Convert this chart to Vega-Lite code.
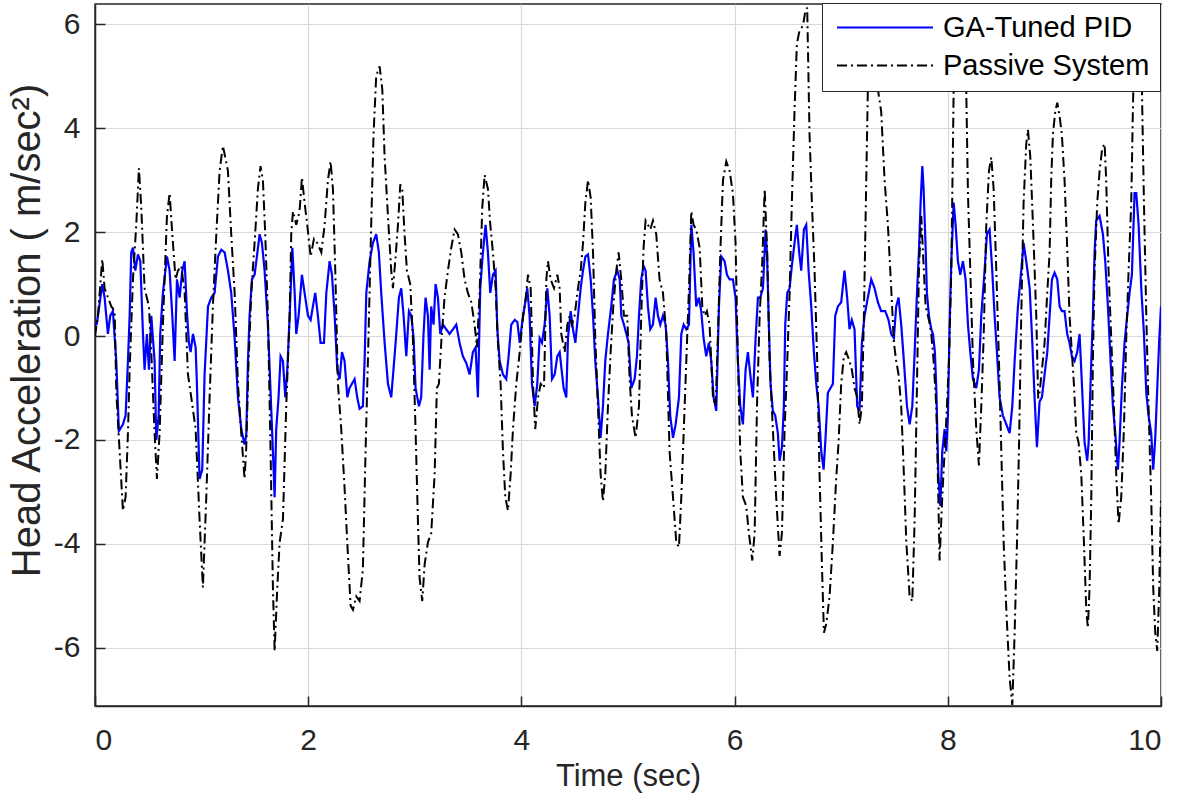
{
 "$schema": "https://vega.github.io/schema/vega-lite/v6.json",
 "width": 1066, "height": 702,
 "autosize": {"type": "none"},
 "padding": {"left": 95, "top": 4, "right": 20, "bottom": 101},
 "background": "#ffffff",
 "config": {
  "font": "Liberation Sans",
  "view": {"stroke": "#262626", "strokeWidth": 1.5},
  "axis": {"gridColor": "#d9d9d9", "gridWidth": 1.2, "domainColor": "#262626", "domainWidth": 1.5, "tickColor": "#262626", "tickSize": -10, "tickWidth": 1.5, "labelColor": "#262626", "titleColor": "#262626", "labelFont": "Liberation Sans", "titleFont": "Liberation Sans", "labelFontSize": 30, "titleFontWeight": "normal", "labelExpr": "datum.value + ''"},
  "legend": {"orient": "none", "legendX": 727, "legendY": -1, "strokeColor": "#262626", "fillColor": "#ffffff", "padding": 10, "labelFontSize": 29, "labelFont": "Liberation Sans", "labelColor": "#000000", "labelLimit": 0, "symbolType": "stroke", "symbolSize": 9216, "symbolStrokeWidth": 2, "clipHeight": 29, "rowPadding": 8, "labelOffset": 9, "symbolOffset": 4, "cornerRadius": 0}
 },
 "layer": [
  {
   "data": {"values": [
{"t":0,"v":0.2},{"t":0.018,"v":0.24},{"t":0.068,"v":1.0},{"t":0.09,"v":0.74},{"t":0.121,"v":0.04},{"t":0.143,"v":0.39},{"t":0.168,"v":0.48},{"t":0.2,"v":-0.5},{"t":0.224,"v":-1.83},{"t":0.262,"v":-1.7},{"t":0.287,"v":-1.53},{"t":0.309,"v":-0.48},{"t":0.325,"v":0.39},{"t":0.34,"v":1.61},{"t":0.356,"v":1.7},{"t":0.378,"v":1.26},{"t":0.403,"v":1.57},{"t":0.425,"v":1.44},{"t":0.45,"v":0.04},{"t":0.465,"v":-0.65},{"t":0.487,"v":0.04},{"t":0.506,"v":-0.65},{"t":0.528,"v":0.39},{"t":0.559,"v":-0.48},{"t":0.575,"v":-2.0},{"t":0.597,"v":-1.53},{"t":0.612,"v":0.04},{"t":0.637,"v":0.83},{"t":0.675,"v":1.53},{"t":0.7,"v":1.26},{"t":0.725,"v":0.39},{"t":0.747,"v":-0.48},{"t":0.769,"v":1.09},{"t":0.794,"v":0.74},{"t":0.819,"v":1.26},{"t":0.841,"v":1.44},{"t":0.862,"v":0.48},{"t":0.881,"v":-0.13},{"t":0.897,"v":-0.31},{"t":0.919,"v":0.04},{"t":0.944,"v":-0.22},{"t":0.956,"v":-0.92},{"t":0.981,"v":-2.75},{"t":1.006,"v":-2.57},{"t":1.028,"v":-0.74},{"t":1.06,"v":0.57},{"t":1.091,"v":0.74},{"t":1.122,"v":0.83},{"t":1.153,"v":1.53},{"t":1.185,"v":1.66},{"t":1.216,"v":1.61},{"t":1.247,"v":1.26},{"t":1.278,"v":0.83},{"t":1.31,"v":-0.04},{"t":1.341,"v":-1.18},{"t":1.372,"v":-1.79},{"t":1.403,"v":-2.09},{"t":1.419,"v":-1.9},{"t":1.435,"v":-0.48},{"t":1.45,"v":0.39},{"t":1.472,"v":1.09},{"t":1.497,"v":1.18},{"t":1.519,"v":1.53},{"t":1.544,"v":1.96},{"t":1.566,"v":1.79},{"t":1.591,"v":1.26},{"t":1.622,"v":0.22},{"t":1.644,"v":-0.92},{"t":1.669,"v":-2.22},{"t":1.685,"v":-3.1},{"t":1.7,"v":-1.79},{"t":1.722,"v":-1.18},{"t":1.741,"v":-0.39},{"t":1.763,"v":-0.48},{"t":1.785,"v":-1.18},{"t":1.804,"v":-0.65},{"t":1.826,"v":0.39},{"t":1.851,"v":1.7},{"t":1.873,"v":0.83},{"t":1.888,"v":0.04},{"t":1.91,"v":0.39},{"t":1.941,"v":1.18},{"t":1.966,"v":0.83},{"t":1.998,"v":0.39},{"t":2.023,"v":0.31},{"t":2.044,"v":0.57},{"t":2.066,"v":0.83},{"t":2.091,"v":0.39},{"t":2.116,"v":-0.13},{"t":2.148,"v":-0.13},{"t":2.17,"v":0.83},{"t":2.201,"v":1.44},{"t":2.223,"v":1.18},{"t":2.248,"v":0.39},{"t":2.273,"v":-0.65},{"t":2.295,"v":-0.83},{"t":2.317,"v":-0.31},{"t":2.341,"v":-0.48},{"t":2.367,"v":-1.18},{"t":2.388,"v":-1.0},{"t":2.435,"v":-0.83},{"t":2.46,"v":-1.18},{"t":2.482,"v":-1.4},{"t":2.513,"v":-1.35},{"t":2.529,"v":-0.48},{"t":2.545,"v":0.83},{"t":2.576,"v":1.44},{"t":2.607,"v":1.79},{"t":2.638,"v":1.96},{"t":2.663,"v":1.61},{"t":2.685,"v":0.83},{"t":2.717,"v":-0.13},{"t":2.748,"v":-0.92},{"t":2.779,"v":-1.18},{"t":2.82,"v":-0.13},{"t":2.851,"v":0.74},{"t":2.873,"v":0.92},{"t":2.895,"v":0.39},{"t":2.92,"v":-0.39},{"t":2.945,"v":0.48},{"t":2.967,"v":0.39},{"t":2.989,"v":-0.04},{"t":3.007,"v":-1.0},{"t":3.039,"v":-1.35},{"t":3.06,"v":-1.18},{"t":3.082,"v":0.04},{"t":3.101,"v":0.74},{"t":3.123,"v":0.39},{"t":3.139,"v":-0.65},{"t":3.154,"v":0.57},{"t":3.176,"v":0.22},{"t":3.195,"v":1.0},{"t":3.217,"v":0.74},{"t":3.239,"v":0.04},{"t":3.264,"v":0.22},{"t":3.295,"v":0.13},{"t":3.326,"v":0.04},{"t":3.358,"v":0.13},{"t":3.389,"v":0.22},{"t":3.42,"v":-0.13},{"t":3.451,"v":-0.39},{"t":3.483,"v":-0.52},{"t":3.514,"v":-0.74},{"t":3.545,"v":-0.31},{"t":3.57,"v":-0.22},{"t":3.592,"v":-1.18},{"t":3.614,"v":0.92},{"t":3.639,"v":1.61},{"t":3.664,"v":2.14},{"t":3.686,"v":1.61},{"t":3.708,"v":0.83},{"t":3.733,"v":1.18},{"t":3.758,"v":1.26},{"t":3.774,"v":0.13},{"t":3.796,"v":-0.48},{"t":3.827,"v":-0.74},{"t":3.858,"v":-0.83},{"t":3.88,"v":-0.39},{"t":3.905,"v":0.22},{"t":3.937,"v":0.31},{"t":3.962,"v":0.27},{"t":3.984,"v":-0.13},{"t":4.005,"v":0.22},{"t":4.03,"v":0.57},{"t":4.055,"v":0.92},{"t":4.077,"v":0.39},{"t":4.099,"v":-0.92},{"t":4.124,"v":-1.35},{"t":4.149,"v":-0.92},{"t":4.171,"v":-0.04},{"t":4.193,"v":-0.13},{"t":4.218,"v":0.22},{"t":4.243,"v":0.92},{"t":4.265,"v":0.39},{"t":4.287,"v":-0.83},{"t":4.312,"v":-0.74},{"t":4.337,"v":-0.39},{"t":4.359,"v":-0.31},{"t":4.396,"v":-1.0},{"t":4.421,"v":-1.18},{"t":4.437,"v":-0.04},{"t":4.462,"v":0.48},{"t":4.484,"v":0.13},{"t":4.506,"v":-0.13},{"t":4.531,"v":0.39},{"t":4.556,"v":0.92},{"t":4.578,"v":1.26},{"t":4.6,"v":1.53},{"t":4.625,"v":1.57},{"t":4.65,"v":1.09},{"t":4.672,"v":0.39},{"t":4.693,"v":-0.48},{"t":4.718,"v":-1.18},{"t":4.743,"v":-1.96},{"t":4.765,"v":-1.35},{"t":4.787,"v":-0.48},{"t":4.812,"v":0.04},{"t":4.843,"v":0.57},{"t":4.868,"v":1.09},{"t":4.9,"v":1.26},{"t":4.922,"v":1.09},{"t":4.937,"v":0.39},{"t":4.962,"v":0.22},{"t":5.006,"v":-0.13},{"t":5.031,"v":-1.0},{"t":5.062,"v":-0.83},{"t":5.084,"v":-0.39},{"t":5.103,"v":0.39},{"t":5.124,"v":1.09},{"t":5.146,"v":1.35},{"t":5.165,"v":1.26},{"t":5.187,"v":0.57},{"t":5.209,"v":0.13},{"t":5.234,"v":0.22},{"t":5.259,"v":0.74},{"t":5.281,"v":0.39},{"t":5.303,"v":0.22},{"t":5.328,"v":0.39},{"t":5.353,"v":0.22},{"t":5.375,"v":-0.48},{"t":5.396,"v":-1.53},{"t":5.422,"v":-1.96},{"t":5.447,"v":-1.7},{"t":5.478,"v":-1.18},{"t":5.5,"v":0.04},{"t":5.522,"v":0.22},{"t":5.547,"v":0.13},{"t":5.572,"v":0.22},{"t":5.594,"v":2.14},{"t":5.615,"v":1.61},{"t":5.64,"v":0.57},{"t":5.665,"v":0.74},{"t":5.687,"v":0.48},{"t":5.709,"v":-0.04},{"t":5.734,"v":-0.39},{"t":5.759,"v":-0.13},{"t":5.781,"v":-0.48},{"t":5.803,"v":-1.18},{"t":5.828,"v":-1.44},{"t":5.853,"v":0.57},{"t":5.875,"v":1.53},{"t":5.906,"v":1.44},{"t":5.928,"v":1.18},{"t":5.953,"v":1.09},{"t":5.984,"v":1.09},{"t":6.009,"v":0.74},{"t":6.031,"v":-0.48},{"t":6.053,"v":-1.35},{"t":6.078,"v":-1.7},{"t":6.103,"v":-0.65},{"t":6.125,"v":-0.31},{"t":6.147,"v":-0.74},{"t":6.172,"v":-1.18},{"t":6.197,"v":-0.04},{"t":6.219,"v":0.74},{"t":6.241,"v":0.74},{"t":6.266,"v":0.92},{"t":6.291,"v":2.05},{"t":6.305,"v":1.53},{"t":6.319,"v":0.39},{"t":6.337,"v":-0.92},{"t":6.359,"v":-1.44},{"t":6.381,"v":-1.53},{"t":6.406,"v":-1.87},{"t":6.422,"v":-2.4},{"t":6.444,"v":-2.14},{"t":6.462,"v":-1.35},{"t":6.475,"v":0.22},{"t":6.494,"v":0.83},{"t":6.516,"v":0.92},{"t":6.537,"v":1.35},{"t":6.562,"v":1.79},{"t":6.584,"v":2.14},{"t":6.606,"v":1.61},{"t":6.625,"v":1.26},{"t":6.65,"v":2.05},{"t":6.672,"v":2.14},{"t":6.694,"v":1.26},{"t":6.719,"v":0.57},{"t":6.744,"v":-0.31},{"t":6.766,"v":-0.92},{"t":6.788,"v":-1.35},{"t":6.813,"v":-2.22},{"t":6.835,"v":-2.57},{"t":6.853,"v":-1.96},{"t":6.875,"v":-1.09},{"t":6.9,"v":-1.0},{"t":6.922,"v":-0.92},{"t":6.944,"v":0.39},{"t":6.969,"v":0.57},{"t":7.0,"v":0.65},{"t":7.031,"v":1.26},{"t":7.056,"v":0.74},{"t":7.078,"v":0.13},{"t":7.1,"v":0.31},{"t":7.125,"v":0.13},{"t":7.15,"v":-1.35},{"t":7.172,"v":-1.44},{"t":7.194,"v":-0.13},{"t":7.219,"v":0.39},{"t":7.25,"v":0.74},{"t":7.282,"v":1.09},{"t":7.313,"v":0.92},{"t":7.344,"v":0.65},{"t":7.375,"v":0.48},{"t":7.413,"v":0.48},{"t":7.444,"v":0.31},{"t":7.469,"v":0.04},{"t":7.494,"v":-0.04},{"t":7.516,"v":0.57},{"t":7.538,"v":0.74},{"t":7.563,"v":0.22},{"t":7.588,"v":-0.48},{"t":7.617,"v":-1.35},{"t":7.642,"v":-1.7},{"t":7.667,"v":-1.35},{"t":7.689,"v":-0.31},{"t":7.711,"v":0.83},{"t":7.729,"v":1.61},{"t":7.745,"v":2.57},{"t":7.761,"v":3.27},{"t":7.773,"v":2.83},{"t":7.792,"v":1.7},{"t":7.804,"v":0.83},{"t":7.823,"v":0.39},{"t":7.845,"v":0.13},{"t":7.861,"v":0.04},{"t":7.879,"v":-0.31},{"t":7.892,"v":-1.0},{"t":7.911,"v":-2.66},{"t":7.93,"v":-3.27},{"t":7.948,"v":-2.22},{"t":7.97,"v":-1.79},{"t":7.986,"v":-2.22},{"t":8.001,"v":-1.53},{"t":8.017,"v":0.22},{"t":8.033,"v":1.44},{"t":8.055,"v":2.57},{"t":8.073,"v":2.14},{"t":8.095,"v":1.44},{"t":8.117,"v":1.18},{"t":8.142,"v":1.44},{"t":8.167,"v":1.09},{"t":8.189,"v":0.22},{"t":8.211,"v":-0.31},{"t":8.236,"v":-0.83},{"t":8.267,"v":-1.0},{"t":8.292,"v":-0.65},{"t":8.314,"v":0.39},{"t":8.345,"v":1.26},{"t":8.367,"v":1.96},{"t":8.392,"v":2.05},{"t":8.417,"v":1.26},{"t":8.439,"v":0.39},{"t":8.461,"v":-0.31},{"t":8.486,"v":-1.18},{"t":8.517,"v":-1.53},{"t":8.549,"v":-1.7},{"t":8.58,"v":-1.87},{"t":8.605,"v":-1.35},{"t":8.627,"v":-0.48},{"t":8.658,"v":0.57},{"t":8.689,"v":1.26},{"t":8.711,"v":1.79},{"t":8.736,"v":1.44},{"t":8.768,"v":0.92},{"t":8.793,"v":-0.13},{"t":8.814,"v":-1.18},{"t":8.836,"v":-2.14},{"t":8.861,"v":-1.26},{"t":8.883,"v":-1.18},{"t":8.908,"v":-0.74},{"t":8.933,"v":-0.31},{"t":8.955,"v":0.39},{"t":8.977,"v":1.09},{"t":9.002,"v":1.22},{"t":9.027,"v":1.09},{"t":9.049,"v":0.57},{"t":9.07,"v":0.48},{"t":9.095,"v":0.48},{"t":9.12,"v":0.04},{"t":9.142,"v":-0.13},{"t":9.164,"v":-0.39},{"t":9.189,"v":-0.48},{"t":9.214,"v":-0.31},{"t":9.236,"v":0.04},{"t":9.258,"v":-0.92},{"t":9.283,"v":-2.05},{"t":9.308,"v":-2.4},{"t":9.321,"v":-2.05},{"t":9.339,"v":-0.92},{"t":9.361,"v":0.39},{"t":9.377,"v":1.61},{"t":9.392,"v":2.22},{"t":9.424,"v":2.31},{"t":9.455,"v":1.96},{"t":9.477,"v":1.44},{"t":9.502,"v":0.57},{"t":9.527,"v":-0.48},{"t":9.549,"v":-1.35},{"t":9.571,"v":-1.87},{"t":9.596,"v":-2.57},{"t":9.611,"v":-2.05},{"t":9.633,"v":-1.0},{"t":9.658,"v":-0.13},{"t":9.683,"v":0.39},{"t":9.705,"v":0.83},{"t":9.727,"v":1.18},{"t":9.752,"v":2.75},{"t":9.768,"v":2.75},{"t":9.79,"v":2.14},{"t":9.815,"v":0.92},{"t":9.84,"v":0.04},{"t":9.862,"v":-1.09},{"t":9.883,"v":-1.53},{"t":9.908,"v":-1.87},{"t":9.927,"v":-2.57},{"t":9.946,"v":-1.96},{"t":9.965,"v":-1.0},{"t":9.984,"v":-0.04},{"t":10.0,"v":0.57}
   ]},
   "mark": {"type": "line", "strokeWidth": 2.2, "clip": true},
   "encoding": {
    "x": {"field": "t", "type": "quantitative", "scale": {"domain": [0, 10], "nice": false}, "axis": {"values": [0, 2, 4, 6, 8, 10], "title": "Time (sec)", "titleFontSize": 31, "labelPadding": 29, "titlePadding": 6}},
    "y": {"field": "v", "type": "quantitative", "scale": {"domain": [-7.12, 6.39], "nice": false}, "axis": {"values": [-6, -4, -2, 0, 2, 4, 6], "title": "Head Acceleration ( m/sec²)", "titleFontSize": 40, "labelPadding": 25, "titleX": -48, "titleY": 326}},
    "color": {"datum": "GA-Tuned PID", "scale": {"domain": ["GA-Tuned PID", "Passive System"], "range": ["#0000ff", "#000000"]}, "legend": {"title": null}},
    "strokeDash": {"datum": "GA-Tuned PID", "scale": {"domain": ["GA-Tuned PID", "Passive System"], "range": [[1, 0], [10, 4, 2, 4]]}, "legend": {"title": null}}
   }
  },
  {
   "data": {"values": [
{"t":0,"v":0.0},{"t":0.028,"v":0.4},{"t":0.068,"v":1.48},{"t":0.09,"v":0.92},{"t":0.121,"v":0.74},{"t":0.153,"v":0.57},{"t":0.184,"v":0.48},{"t":0.2,"v":-1.09},{"t":0.231,"v":-2.22},{"t":0.262,"v":-3.36},{"t":0.287,"v":-3.1},{"t":0.309,"v":-1.87},{"t":0.325,"v":-0.65},{"t":0.356,"v":1.09},{"t":0.387,"v":2.14},{"t":0.412,"v":3.23},{"t":0.434,"v":2.48},{"t":0.465,"v":0.92},{"t":0.506,"v":0.57},{"t":0.528,"v":-0.31},{"t":0.559,"v":-1.87},{"t":0.581,"v":-2.75},{"t":0.606,"v":-1.87},{"t":0.637,"v":0.22},{"t":0.675,"v":2.31},{"t":0.7,"v":2.75},{"t":0.725,"v":1.96},{"t":0.756,"v":1.09},{"t":0.778,"v":1.26},{"t":0.809,"v":1.35},{"t":0.841,"v":0.83},{"t":0.872,"v":-0.74},{"t":0.903,"v":-1.18},{"t":0.944,"v":-1.79},{"t":0.981,"v":-3.53},{"t":1.012,"v":-4.84},{"t":1.044,"v":-3.1},{"t":1.075,"v":-1.18},{"t":1.106,"v":0.57},{"t":1.138,"v":1.96},{"t":1.169,"v":3.18},{"t":1.2,"v":3.66},{"t":1.247,"v":3.18},{"t":1.278,"v":1.96},{"t":1.31,"v":0.83},{"t":1.341,"v":-0.92},{"t":1.372,"v":-1.87},{"t":1.403,"v":-2.75},{"t":1.419,"v":-2.14},{"t":1.441,"v":-0.48},{"t":1.466,"v":0.83},{"t":1.497,"v":1.79},{"t":1.528,"v":2.83},{"t":1.553,"v":3.27},{"t":1.575,"v":3.0},{"t":1.597,"v":1.96},{"t":1.622,"v":0.39},{"t":1.647,"v":-2.22},{"t":1.669,"v":-4.84},{"t":1.685,"v":-6.06},{"t":1.71,"v":-4.84},{"t":1.732,"v":-3.97},{"t":1.763,"v":-3.53},{"t":1.794,"v":-1.35},{"t":1.826,"v":0.39},{"t":1.841,"v":1.96},{"t":1.857,"v":2.4},{"t":1.888,"v":2.14},{"t":1.919,"v":2.4},{"t":1.941,"v":3.05},{"t":1.966,"v":2.57},{"t":1.991,"v":2.14},{"t":2.023,"v":1.53},{"t":2.054,"v":1.87},{"t":2.085,"v":1.79},{"t":2.123,"v":1.61},{"t":2.154,"v":2.14},{"t":2.185,"v":3.0},{"t":2.21,"v":3.36},{"t":2.232,"v":2.83},{"t":2.254,"v":1.26},{"t":2.279,"v":-0.92},{"t":2.31,"v":-1.79},{"t":2.341,"v":-2.92},{"t":2.373,"v":-4.23},{"t":2.398,"v":-5.19},{"t":2.42,"v":-5.27},{"t":2.451,"v":-5.01},{"t":2.482,"v":-5.1},{"t":2.513,"v":-4.49},{"t":2.538,"v":-2.22},{"t":2.56,"v":-0.48},{"t":2.591,"v":2.14},{"t":2.613,"v":3.88},{"t":2.638,"v":5.01},{"t":2.67,"v":5.19},{"t":2.695,"v":4.75},{"t":2.717,"v":3.44},{"t":2.748,"v":2.31},{"t":2.779,"v":1.26},{"t":2.795,"v":0.92},{"t":2.82,"v":1.53},{"t":2.842,"v":2.14},{"t":2.864,"v":2.92},{"t":2.882,"v":2.83},{"t":2.904,"v":1.96},{"t":2.926,"v":1.26},{"t":2.957,"v":1.0},{"t":2.982,"v":-0.04},{"t":3.007,"v":-1.79},{"t":3.029,"v":-3.53},{"t":3.045,"v":-4.66},{"t":3.07,"v":-5.1},{"t":3.092,"v":-4.4},{"t":3.123,"v":-3.97},{"t":3.154,"v":-3.79},{"t":3.186,"v":-2.66},{"t":3.207,"v":-1.0},{"t":3.226,"v":-0.92},{"t":3.248,"v":-0.13},{"t":3.279,"v":0.74},{"t":3.311,"v":1.26},{"t":3.342,"v":1.7},{"t":3.373,"v":2.05},{"t":3.404,"v":1.96},{"t":3.436,"v":1.61},{"t":3.467,"v":1.09},{"t":3.498,"v":0.83},{"t":3.53,"v":0.65},{"t":3.561,"v":0.22},{"t":3.583,"v":-0.22},{"t":3.608,"v":0.83},{"t":3.633,"v":2.48},{"t":3.655,"v":3.1},{"t":3.686,"v":2.83},{"t":3.708,"v":2.14},{"t":3.733,"v":1.61},{"t":3.758,"v":0.92},{"t":3.78,"v":-0.13},{"t":3.805,"v":-0.92},{"t":3.827,"v":-2.22},{"t":3.849,"v":-3.1},{"t":3.874,"v":-3.36},{"t":3.899,"v":-2.66},{"t":3.921,"v":-1.79},{"t":3.952,"v":-0.92},{"t":3.984,"v":-0.31},{"t":4.015,"v":0.39},{"t":4.037,"v":0.65},{"t":4.062,"v":1.18},{"t":4.087,"v":0.92},{"t":4.109,"v":-0.92},{"t":4.13,"v":-1.79},{"t":4.156,"v":-1.18},{"t":4.181,"v":-0.92},{"t":4.212,"v":-1.0},{"t":4.234,"v":1.09},{"t":4.249,"v":1.44},{"t":4.274,"v":1.09},{"t":4.306,"v":0.92},{"t":4.337,"v":1.18},{"t":4.359,"v":0.92},{"t":4.374,"v":0.04},{"t":4.406,"v":-0.31},{"t":4.431,"v":0.22},{"t":4.453,"v":0.39},{"t":4.474,"v":0.22},{"t":4.499,"v":0.39},{"t":4.531,"v":0.92},{"t":4.556,"v":1.26},{"t":4.578,"v":1.79},{"t":4.6,"v":2.57},{"t":4.625,"v":3.0},{"t":4.65,"v":2.66},{"t":4.672,"v":1.61},{"t":4.693,"v":-0.04},{"t":4.718,"v":-1.35},{"t":4.743,"v":-2.66},{"t":4.765,"v":-3.18},{"t":4.787,"v":-2.66},{"t":4.812,"v":-1.35},{"t":4.837,"v":-0.31},{"t":4.862,"v":0.57},{"t":4.89,"v":1.26},{"t":4.912,"v":1.61},{"t":4.937,"v":1.09},{"t":4.962,"v":0.39},{"t":4.993,"v":0.39},{"t":5.015,"v":-0.83},{"t":5.037,"v":-1.53},{"t":5.071,"v":-1.96},{"t":5.103,"v":-1.35},{"t":5.124,"v":0.39},{"t":5.146,"v":1.7},{"t":5.165,"v":2.22},{"t":5.187,"v":2.14},{"t":5.209,"v":2.05},{"t":5.234,"v":2.22},{"t":5.265,"v":1.96},{"t":5.296,"v":1.09},{"t":5.328,"v":0.83},{"t":5.359,"v":0.04},{"t":5.39,"v":-2.22},{"t":5.422,"v":-3.1},{"t":5.453,"v":-3.97},{"t":5.478,"v":-4.06},{"t":5.5,"v":-3.1},{"t":5.522,"v":-1.87},{"t":5.547,"v":-0.48},{"t":5.572,"v":0.92},{"t":5.594,"v":2.4},{"t":5.615,"v":2.14},{"t":5.64,"v":2.05},{"t":5.672,"v":1.7},{"t":5.697,"v":0.57},{"t":5.719,"v":0.39},{"t":5.74,"v":0.48},{"t":5.765,"v":0.22},{"t":5.797,"v":-1.18},{"t":5.822,"v":-1.35},{"t":5.844,"v":0.04},{"t":5.866,"v":1.61},{"t":5.891,"v":3.0},{"t":5.922,"v":3.36},{"t":5.953,"v":3.18},{"t":5.984,"v":2.75},{"t":6.009,"v":1.79},{"t":6.031,"v":-0.48},{"t":6.053,"v":-2.22},{"t":6.078,"v":-3.1},{"t":6.109,"v":-3.27},{"t":6.134,"v":-3.79},{"t":6.166,"v":-4.32},{"t":6.188,"v":-3.79},{"t":6.21,"v":-1.35},{"t":6.235,"v":0.39},{"t":6.26,"v":1.44},{"t":6.282,"v":2.83},{"t":6.306,"v":1.61},{"t":6.328,"v":-0.48},{"t":6.359,"v":-1.79},{"t":6.39,"v":-3.1},{"t":6.422,"v":-4.23},{"t":6.444,"v":-3.79},{"t":6.469,"v":-1.79},{"t":6.494,"v":-0.48},{"t":6.516,"v":0.83},{"t":6.537,"v":2.57},{"t":6.562,"v":4.32},{"t":6.584,"v":5.62},{"t":6.609,"v":5.88},{"t":6.641,"v":5.97},{"t":6.662,"v":6.23},{"t":6.681,"v":6.32},{"t":6.703,"v":3.88},{"t":6.725,"v":2.57},{"t":6.75,"v":1.26},{"t":6.775,"v":-0.48},{"t":6.797,"v":-2.66},{"t":6.819,"v":-4.4},{"t":6.838,"v":-5.71},{"t":6.86,"v":-5.54},{"t":6.891,"v":-5.01},{"t":6.922,"v":-3.97},{"t":6.953,"v":-2.75},{"t":6.975,"v":-2.05},{"t":7.0,"v":-0.92},{"t":7.025,"v":-0.39},{"t":7.047,"v":-0.31},{"t":7.078,"v":-0.48},{"t":7.1,"v":-0.65},{"t":7.125,"v":-1.0},{"t":7.15,"v":-1.18},{"t":7.172,"v":-1.7},{"t":7.194,"v":-1.35},{"t":7.213,"v":0.39},{"t":7.235,"v":3.0},{"t":7.25,"v":4.75},{"t":7.266,"v":5.62},{"t":7.297,"v":6.0},{"t":7.328,"v":5.6},{"t":7.344,"v":4.75},{"t":7.375,"v":4.32},{"t":7.407,"v":3.0},{"t":7.438,"v":2.14},{"t":7.469,"v":0.92},{"t":7.494,"v":-0.13},{"t":7.516,"v":-0.48},{"t":7.538,"v":-0.74},{"t":7.563,"v":-1.35},{"t":7.588,"v":-2.66},{"t":7.611,"v":-3.97},{"t":7.642,"v":-5.01},{"t":7.667,"v":-5.1},{"t":7.689,"v":-3.53},{"t":7.711,"v":-0.92},{"t":7.729,"v":1.26},{"t":7.751,"v":2.31},{"t":7.767,"v":1.61},{"t":7.792,"v":0.57},{"t":7.823,"v":0.31},{"t":7.845,"v":0.04},{"t":7.867,"v":-0.48},{"t":7.892,"v":-1.35},{"t":7.911,"v":-3.1},{"t":7.923,"v":-4.32},{"t":7.948,"v":-3.1},{"t":7.97,"v":-2.22},{"t":7.986,"v":-1.61},{"t":8.011,"v":-0.48},{"t":8.033,"v":1.26},{"t":8.055,"v":4.75},{"t":8.073,"v":6.0},{"t":8.126,"v":6.2},{"t":8.158,"v":6.0},{"t":8.173,"v":4.75},{"t":8.189,"v":2.75},{"t":8.211,"v":1.26},{"t":8.236,"v":-0.48},{"t":8.267,"v":-1.79},{"t":8.292,"v":-2.49},{"t":8.314,"v":-1.35},{"t":8.336,"v":-0.04},{"t":8.361,"v":2.14},{"t":8.386,"v":3.18},{"t":8.408,"v":3.44},{"t":8.43,"v":2.83},{"t":8.455,"v":1.26},{"t":8.48,"v":-0.48},{"t":8.502,"v":-2.22},{"t":8.524,"v":-3.97},{"t":8.549,"v":-5.27},{"t":8.58,"v":-6.58},{"t":8.605,"v":-7.1},{"t":8.627,"v":-5.71},{"t":8.649,"v":-3.97},{"t":8.667,"v":-2.22},{"t":8.689,"v":0.39},{"t":8.711,"v":2.57},{"t":8.736,"v":3.7},{"t":8.752,"v":3.97},{"t":8.774,"v":3.44},{"t":8.799,"v":2.14},{"t":8.83,"v":0.39},{"t":8.848,"v":-1.2},{"t":8.861,"v":-1.09},{"t":8.883,"v":-0.65},{"t":8.908,"v":-0.13},{"t":8.933,"v":0.83},{"t":8.955,"v":1.61},{"t":8.97,"v":3.0},{"t":8.986,"v":3.88},{"t":9.008,"v":4.32},{"t":9.027,"v":4.49},{"t":9.049,"v":4.23},{"t":9.07,"v":3.88},{"t":9.095,"v":3.0},{"t":9.12,"v":1.7},{"t":9.142,"v":0.39},{"t":9.164,"v":-0.31},{"t":9.183,"v":-0.92},{"t":9.205,"v":-1.87},{"t":9.227,"v":-2.05},{"t":9.252,"v":-2.66},{"t":9.277,"v":-3.97},{"t":9.299,"v":-5.27},{"t":9.314,"v":-5.62},{"t":9.33,"v":-4.84},{"t":9.346,"v":-3.1},{"t":9.361,"v":-0.48},{"t":9.377,"v":1.26},{"t":9.402,"v":2.57},{"t":9.424,"v":3.18},{"t":9.449,"v":3.62},{"t":9.471,"v":3.7},{"t":9.486,"v":3.0},{"t":9.508,"v":1.26},{"t":9.533,"v":-0.04},{"t":9.558,"v":-1.35},{"t":9.58,"v":-2.66},{"t":9.602,"v":-3.62},{"t":9.627,"v":-3.1},{"t":9.652,"v":-1.79},{"t":9.674,"v":-0.04},{"t":9.696,"v":1.26},{"t":9.721,"v":2.57},{"t":9.736,"v":4.32},{"t":9.752,"v":5.8},{"t":9.79,"v":6.0},{"t":9.821,"v":4.75},{"t":9.84,"v":2.57},{"t":9.862,"v":0.39},{"t":9.883,"v":-1.35},{"t":9.908,"v":-3.1},{"t":9.927,"v":-4.84},{"t":9.946,"v":-5.71},{"t":9.965,"v":-6.06},{"t":9.984,"v":-4.84},{"t":10.0,"v":-3.1}
   ]},
   "mark": {"type": "line", "strokeWidth": 2, "clip": true},
   "encoding": {
    "x": {"field": "t", "type": "quantitative"},
    "y": {"field": "v", "type": "quantitative"},
    "color": {"datum": "Passive System"},
    "strokeDash": {"datum": "Passive System"}
   }
  }
 ]
}
